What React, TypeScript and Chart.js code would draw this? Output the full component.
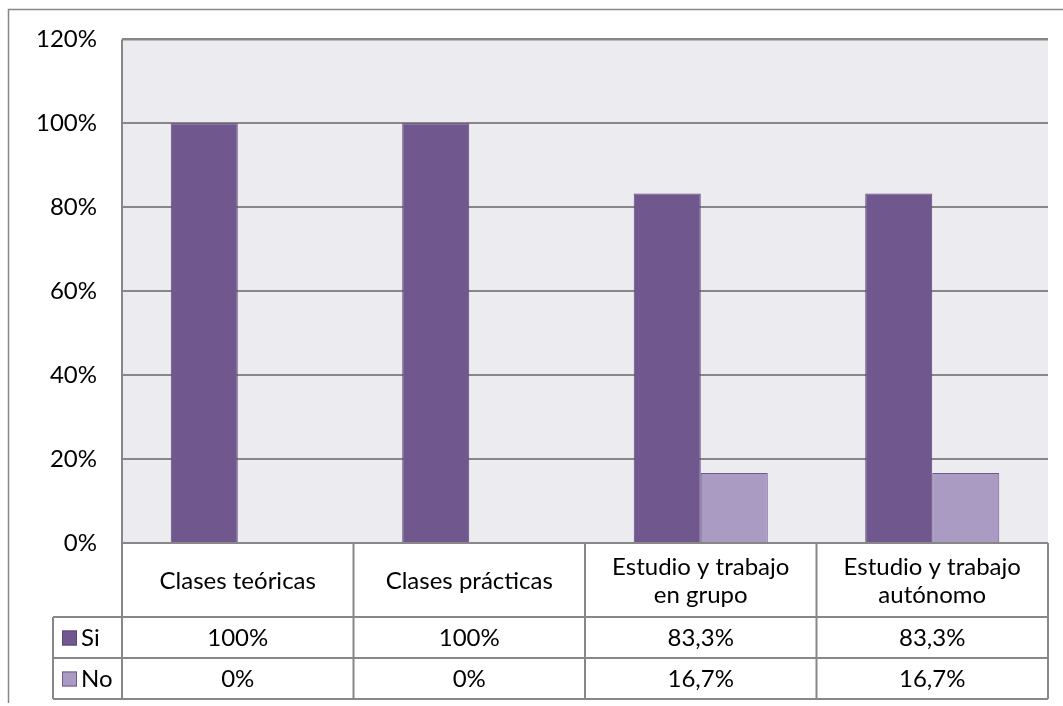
import React, { useEffect, useRef } from "react";
import { Chart, registerables } from "chart.js";

Chart.register(...registerables);

const categories: string[][] = [
  ["Clases teóricas"],
  ["Clases prácticas"],
  ["Estudio y trabajo", "en grupo"],
  ["Estudio y trabajo", "autónomo"],
];
const seriesNames = ["Si", "No"];
const siValues = [100, 100, 83.3, 83.3];
const noValues = [0, 0, 16.7, 16.7];
const yTicks = [0, 20, 40, 60, 80, 100, 120];

const SI_FILL = "#70588f";
const SI_BORDER = "#5b4778";
const NO_FILL = "#a99bc2";
const NO_BORDER = "#6e5a8f";
const GRID = "#878787";
const PLOT_BG = "#ecebf0";
const FONT = "Lato";
const FS = 24;

const fmt = (v: number) =>
  (Number.isInteger(v) ? String(v) : v.toFixed(1).replace(".", ",")) + "%";

const tablePlugin = {
  id: "excelTable",
  beforeDraw(chart: any) {
    const { ctx, chartArea: a } = chart;
    ctx.save();
    ctx.fillStyle = "#ffffff";
    ctx.fillRect(0, 0, chart.width, chart.height);
    ctx.fillStyle = PLOT_BG;
    ctx.fillRect(a.left, a.top, a.right - a.left, a.bottom - a.top);
    ctx.restore();
  },
  afterDraw(chart: any) {
    const { ctx, chartArea: a } = chart;
    const x = chart.scales.x;
    const n = categories.length;
    const colW = (a.right - a.left) / n;
    const headerBottom = a.bottom + 74;
    const rowH = 41;
    const legendLeft = 53;
    const tableBottom = headerBottom + rowH * seriesNames.length;
    ctx.save();
    // outer frame
    ctx.strokeStyle = GRID;
    ctx.lineWidth = 1.5;
    ctx.beginPath();
    ctx.moveTo(8.5, 703);
    ctx.lineTo(8.5, 9.5);
    ctx.lineTo(chart.width, 9.5);
    ctx.stroke();
    // plot frame top/left
    ctx.lineWidth = 2;
    ctx.beginPath();
    ctx.moveTo(a.left, a.top);
    ctx.lineTo(a.right, a.top);
    ctx.moveTo(a.left, a.top);
    ctx.lineTo(a.left, headerBottom);
    ctx.stroke();
    // table horizontal lines
    ctx.beginPath();
    ctx.moveTo(a.left, a.bottom);
    ctx.lineTo(a.right, a.bottom);
    for (let r = 0; r <= seriesNames.length; r++) {
      const y = headerBottom + r * rowH;
      ctx.moveTo(legendLeft, y);
      ctx.lineTo(a.right, y);
    }
    // vertical lines
    ctx.moveTo(legendLeft, headerBottom);
    ctx.lineTo(legendLeft, tableBottom);
    for (let i = 0; i <= n; i++) {
      const vx = a.left + i * colW;
      ctx.moveTo(vx, a.bottom);
      ctx.lineTo(vx, tableBottom);
    }
    ctx.stroke();

    ctx.fillStyle = "#000000";
    ctx.font = `${FS}px ${FONT}`;
    ctx.textAlign = "center";
    ctx.textBaseline = "middle";
    const headerMid = (a.bottom + headerBottom) / 2;
    categories.forEach((lines, i) => {
      const cx = x.getPixelForValue(i);
      const lh = 28;
      const start = headerMid - ((lines.length - 1) * lh) / 2;
      lines.forEach((t, j) => ctx.fillText(t, cx, start + j * lh + 1));
    });
    const rows = [siValues, noValues];
    const fills = [SI_FILL, NO_FILL];
    const borders = [SI_BORDER, NO_BORDER];
    rows.forEach((vals, r) => {
      const cy = headerBottom + r * rowH + rowH / 2;
      vals.forEach((v, i) => {
        ctx.fillStyle = "#000000";
        ctx.textAlign = "center";
        ctx.fillText(fmt(v), x.getPixelForValue(i), cy + 1);
      });
      ctx.fillStyle = fills[r];
      ctx.fillRect(62, cy - 7, 15, 15);
      ctx.strokeStyle = borders[r];
      ctx.lineWidth = 1;
      ctx.strokeRect(62.5, cy - 6.5, 14, 14);
      ctx.fillStyle = "#000000";
      ctx.textAlign = "left";
      ctx.fillText(seriesNames[r], 81, cy + 1);
    });
    ctx.restore();
  },
};

export default function App() {
  const ref = useRef<HTMLCanvasElement>(null);
  useEffect(() => {
    if (!ref.current) return;
    const chart = new Chart(ref.current, {
      type: "bar",
      data: {
        labels: categories.map((c) => c.join(" ")),
        datasets: [
          {
            label: seriesNames[0],
            data: siValues,
            backgroundColor: SI_FILL,
            borderColor: SI_BORDER,
            borderWidth: 1,
            categoryPercentage: 0.579,
            barPercentage: 1,
          },
          {
            label: seriesNames[1],
            data: noValues,
            backgroundColor: NO_FILL,
            borderColor: NO_BORDER,
            borderWidth: 1,
            categoryPercentage: 0.579,
            barPercentage: 1,
          },
        ],
      },
      options: {
        animation: false,
        responsive: false,
        maintainAspectRatio: false,
        devicePixelRatio: 1,
        layout: { padding: { left: 0, top: 39, right: 15, bottom: 163 } },
        plugins: { legend: { display: false }, tooltip: { enabled: false } },
        scales: {
          x: { display: false },
          y: {
            min: 0,
            max: 120,
            afterFit: (s: any) => {
              s.width = 122;
            },
            afterBuildTicks: (s: any) => {
              s.ticks = yTicks.map((v) => ({ value: v }));
            },
            ticks: {
              padding: 25,
              color: "#000000",
              font: { family: FONT, size: FS },
              callback: (v: any) => v + "%",
            },
            grid: { color: GRID, lineWidth: 2, drawTicks: false },
            border: { display: false },
          },
        },
      },
      plugins: [tablePlugin],
    });
    return () => chart.destroy();
  }, []);
  return (
    <div style={{ position: "absolute", left: 0, top: 0, width: 1063, height: 706 }}>
      <canvas ref={ref} width={1063} height={706} style={{ width: 1063, height: 706 }} />
    </div>
  );
}
